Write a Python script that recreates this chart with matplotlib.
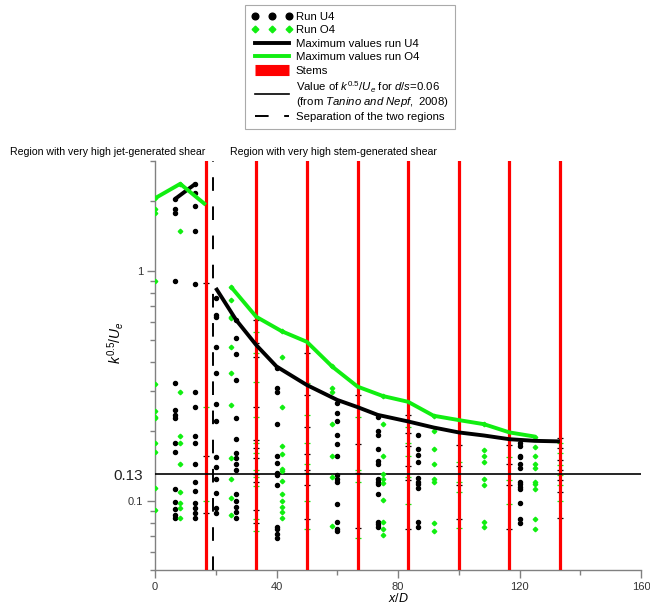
import matplotlib
matplotlib.use('Agg')
import matplotlib.pyplot as plt
import numpy as np
from matplotlib.lines import Line2D
from matplotlib.ticker import LogLocator, NullFormatter, FixedLocator

plt.rcParams['font.family'] = ['Liberation Sans', 'DejaVu Sans']
plt.rcParams['mathtext.fontset'] = 'custom'
plt.rcParams['mathtext.it'] = 'Liberation Sans:italic'
plt.rcParams['mathtext.rm'] = 'Liberation Sans'

# ---------------- data ----------------
u4_stations = [6.7, 13.3, 20.0, 26.7, 40.0, 60.0, 73.3, 86.7, 120.0]
u4_profiles = [
    [2.05, 1.85, 1.77, 0.905, 0.324, 0.248, 0.236, 0.228, 0.179, 0.162, 0.112, 0.099, 0.092, 0.087, 0.084],
    [2.38, 2.18, 1.91, 1.49, 0.873, 0.298, 0.255, 0.191, 0.179, 0.145, 0.12, 0.11, 0.098, 0.093, 0.088, 0.084],
    [0.76, 0.64, 0.63, 0.464, 0.358, 0.262, 0.223, 0.155, 0.14, 0.124, 0.108, 0.093, 0.088],
    [0.61, 0.51, 0.434, 0.333, 0.229, 0.185, 0.161, 0.153, 0.145, 0.136, 0.107, 0.1, 0.094, 0.089, 0.084],
    [0.376, 0.308, 0.298, 0.215, 0.157, 0.146, 0.132, 0.129, 0.117, 0.077, 0.075, 0.072, 0.069],
    [0.265, 0.24, 0.223, 0.193, 0.177, 0.157, 0.129, 0.124, 0.12, 0.097, 0.0805, 0.075, 0.074],
    [0.232, 0.201, 0.193, 0.168, 0.149, 0.145, 0.124, 0.121, 0.118, 0.107, 0.081, 0.079, 0.077],
    [0.193, 0.167, 0.158, 0.148, 0.125, 0.121, 0.118, 0.114, 0.0807, 0.077],
    [0.179, 0.173, 0.157, 0.155, 0.144, 0.139, 0.121, 0.118, 0.115, 0.112, 0.098, 0.083, 0.080],
]

o4_stations = [0.0, 8.3, 25.0, 41.7, 58.3, 75.0, 91.7, 108.3, 125.0]
o4_profiles = [
    [2.06, 1.85, 1.77, 0.905, 0.322, 0.246, 0.232, 0.228, 0.179, 0.162, 0.113, 0.091],
    [2.38, 1.49, 0.298, 0.191, 0.179, 0.145, 0.109, 0.098, 0.0927, 0.0838],
    [0.85, 0.746, 0.631, 0.621, 0.464, 0.36, 0.261, 0.154, 0.124, 0.103, 0.087],
    [0.545, 0.42, 0.255, 0.173, 0.16, 0.138, 0.134, 0.122, 0.107, 0.1, 0.094, 0.089, 0.084],
    [0.383, 0.308, 0.298, 0.215, 0.157, 0.127, 0.078],
    [0.285, 0.216, 0.157, 0.131, 0.124, 0.119, 0.101, 0.081, 0.075, 0.071],
    [0.234, 0.201, 0.168, 0.145, 0.124, 0.121, 0.08, 0.074],
    [0.215, 0.166, 0.157, 0.148, 0.124, 0.117, 0.081, 0.077],
    [0.19, 0.171, 0.157, 0.144, 0.139, 0.121, 0.118, 0.112, 0.083, 0.075],
]

# measurements taken at the stem positions (mostly hidden by the stems)
stem_x = [16.7, 33.3, 50.0, 66.7, 83.3, 100.0, 116.7, 133.3]
stem_profiles = [
    [0.882, 0.256, 0.157, 0.1, 0.088],
    [0.61, 0.543, 0.486, 0.44, 0.423, 0.329, 0.255, 0.231, 0.184, 0.179, 0.169, 0.161,
     0.153, 0.136, 0.131, 0.127, 0.121, 0.116, 0.091, 0.083, 0.080, 0.074],
    [0.437, 0.324, 0.288, 0.236, 0.21, 0.178, 0.16, 0.145, 0.136, 0.132, 0.117, 0.1, 0.083, 0.075],
    [0.288, 0.232, 0.177, 0.136, 0.132, 0.121, 0.076, 0.069],
    [0.236, 0.21, 0.196, 0.178, 0.172, 0.157, 0.141, 0.127, 0.123, 0.097, 0.075],
    [0.175, 0.148, 0.141, 0.121, 0.117, 0.109, 0.083, 0.076],
    [0.175, 0.155, 0.145, 0.123, 0.117, 0.097, 0.075],
    [0.187, 0.178, 0.169, 0.161, 0.15, 0.143, 0.136, 0.129, 0.123, 0.117, 0.109, 0.1, 0.084],
]

u4_max_jet_x = [6.7, 13.3]
u4_max_jet_y = [2.05, 2.38]
u4_max_stem_x = [20.0, 26.7, 33.3, 40.0, 50.0, 60.0, 66.7, 73.3, 83.3, 91.7, 100.0, 108.3, 116.7, 125.0, 133.3]
u4_max_stem_y = [0.84, 0.61, 0.475, 0.383, 0.318, 0.274, 0.255, 0.236, 0.221, 0.208, 0.198, 0.192, 0.185, 0.182, 0.181]

o4_max_jet_x = [0.0, 8.3, 16.7]
o4_max_jet_y = [2.06, 2.38, 1.93]
o4_max_stem_x = [25.0, 33.3, 41.7, 50.0, 58.3, 66.7, 75.0, 83.3, 91.7, 100.0, 108.3, 116.7, 125.0]
o4_max_stem_y = [0.85, 0.63, 0.545, 0.49, 0.383, 0.313, 0.285, 0.269, 0.234, 0.224, 0.215, 0.198, 0.19]

tanino_value = 0.13
separation_x = 19.2

GREEN = '#11ee11'
DASH = (0, (7, 8))

# ---------------- figure ----------------
fig = plt.figure(figsize=(6.5, 6.04), dpi=100)
ax = fig.add_axes([155/650, 1-570/604, 486/650, (570-160.7)/604])

# stem measurements (tiny ticks mostly hidden by red stems)
for i, (sx, prof) in enumerate(zip(stem_x, stem_profiles)):
    for j, v in enumerate(prof):
        ax.plot([sx], [v], marker='_', ms=3.8, mew=0.9,
                color=('black' if j % 2 == 0 else GREEN), zorder=2, ls='none')

for sx in stem_x:
    ax.axvline(sx, color='#ff0000', lw=2.3, zorder=3)

ax.axvline(separation_x, color='black', lw=1.4, ls=DASH, zorder=3)
ax.axhline(tanino_value, color='black', lw=1.2, zorder=4)

for sx, prof in zip(u4_stations, u4_profiles):
    ax.plot([sx]*len(prof), prof, ls='none', marker='o', ms=2.9, color='black', zorder=5)
for sx, prof in zip(o4_stations, o4_profiles):
    ax.plot([sx]*len(prof), prof, ls='none', marker='D', ms=2.3, color=GREEN, zorder=5)

ax.plot(u4_max_jet_x, u4_max_jet_y, color='black', lw=2.8, zorder=6, solid_capstyle='butt')
ax.plot(u4_max_stem_x, u4_max_stem_y, color='black', lw=2.8, zorder=6, solid_capstyle='butt')
ax.plot(o4_max_jet_x, o4_max_jet_y, color=GREEN, lw=2.8, zorder=6, solid_capstyle='butt')
ax.plot(o4_max_stem_x, o4_max_stem_y, color=GREEN, lw=2.8, zorder=6, solid_capstyle='butt')

ax.set_yscale('log')
ax.set_xlim(0, 160)
ax.set_ylim(0.05, 3.0)

ax.set_xticks([0, 40, 80, 120, 160])
ax.set_xticks([20, 60, 100, 140], minor=True)
ax.yaxis.set_major_locator(FixedLocator([0.1, 0.13, 1.0]))
ax.set_yticklabels(['0.1', '0.13', '1'])
ax.yaxis.set_minor_locator(LogLocator(base=10, subs=np.arange(2, 10)))
ax.yaxis.set_minor_formatter(NullFormatter())

for s in ['top', 'right']:
    ax.spines[s].set_visible(False)
for s in ['left', 'bottom']:
    ax.spines[s].set_color('#808080')
    ax.spines[s].set_linewidth(1.0)

ax.tick_params(axis='both', which='major', direction='out', length=5.5, width=1.0,
               color='#808080', labelsize=8, labelcolor='#333333', pad=3)
ax.tick_params(axis='both', which='minor', direction='out', length=3.5, width=1.0,
               color='#808080')
for lab in ax.get_yticklabels():
    if lab.get_text() == '0.13':
        lab.set_fontsize(11)
        lab.set_color('#222222')
ax.yaxis.get_major_ticks()[1].tick1line.set_markersize(0)

ax.set_xlabel(r'$x/D$', fontsize=9)
ax.xaxis.set_label_coords(0.5, -(592-570)/409.3)
ax.set_ylabel(r'$k^{0.5}/U_e$', fontsize=10)
ax.yaxis.set_label_coords((126-155)/486, (570-343)/409.3)

fig.text(10/650, 1-152/604, 'Region with very high jet-generated shear', fontsize=7.6,
         va='center', ha='left')
fig.text(230/650, 1-152/604, 'Region with very high stem-generated shear', fontsize=7.6,
         va='center', ha='left')

handles = [
    Line2D([], [], ls='none', marker='o', ms=4.8, color='black'),
    Line2D([], [], ls='none', marker='D', ms=3.4, color=GREEN),
    Line2D([], [], color='black', lw=2.8),
    Line2D([], [], color=GREEN, lw=2.8),
    Line2D([], [], color='#ff0000', lw=8, solid_capstyle='butt'),
    Line2D([], [], color='black', lw=1.2),
    Line2D([], [], color='black', lw=1.4, ls=DASH),
]
labels = [
    'Run U4',
    'Run O4',
    'Maximum values run U4',
    'Maximum values run O4',
    'Stems',
    r'Value of $k^{0.5}/U_e$ for $d/s$=0.06' + '\n(from '
    + r'$\mathit{Tanino}$ $\mathit{and}$ $\mathit{Nepf,}$ $\mathit{2008}$' + ')',
    'Separation of the two regions',
]
leg = fig.legend(handles, labels, loc='upper left', bbox_to_anchor=(245/650, 1-5/604),
                 fontsize=8.2, numpoints=3, handlelength=3.6, handletextpad=0.25,
                 labelspacing=0.3, borderpad=0.6, borderaxespad=0, frameon=True,
                 fancybox=False, edgecolor='#aaaaaa', framealpha=1)
leg.get_frame().set_linewidth(0.8)
for t in leg.get_texts():
    t.set_linespacing(1.0)

fig.savefig('out.png', dpi=100)
